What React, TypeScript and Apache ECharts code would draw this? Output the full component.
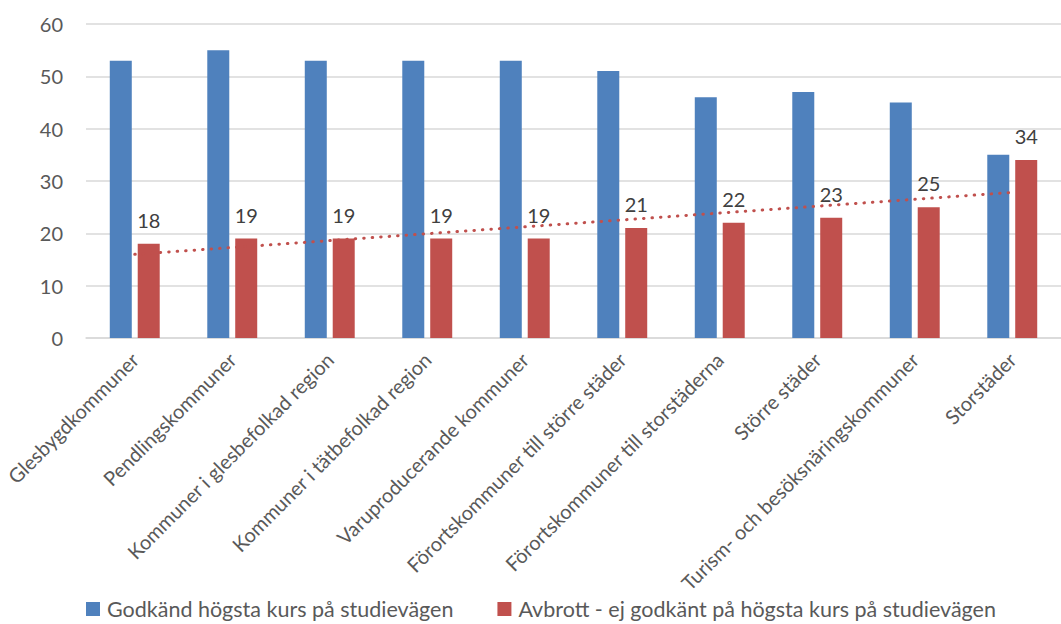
import React, { useEffect, useRef } from "react";
import * as echarts from "echarts";

const categories = [
  "Glesbygdkommuner",
  "Pendlingskommuner",
  "Kommuner i glesbefolkad region",
  "Kommuner i tätbefolkad region",
  "Varuproducerande kommuner",
  "Förortskommuner till större städer",
  "Förortskommuner till storstäderna",
  "Större städer",
  "Turism- och besöksnäringskommuner",
  "Storstäder",
];
const seriesNames = [
  "Godkänd högsta kurs på studievägen",
  "Avbrott - ej godkänt på högsta kurs på studievägen",
];
const godkand = [53, 55, 53, 53, 53, 51, 46, 47, 45, 35];
const avbrott = [18, 19, 19, 19, 19, 21, 22, 23, 25, 34];
const yTicks = [0, 10, 20, 30, 40, 50, 60];

// Linear trendline (least squares) of the "Avbrott" series, like Excel's trendline
function linearTrend(values: number[]): number[] {
  const n = values.length;
  const xs = values.map((_, i) => i + 1);
  const mx = xs.reduce((a, b) => a + b, 0) / n;
  const my = values.reduce((a, b) => a + b, 0) / n;
  let sxy = 0;
  let sxx = 0;
  for (let i = 0; i < n; i++) {
    sxy += (xs[i] - mx) * (values[i] - my);
    sxx += (xs[i] - mx) * (xs[i] - mx);
  }
  const slope = sxy / sxx;
  return xs.map((x) => my + slope * (x - mx));
}

const FONT = "Lato";
const BLUE = "#4F81BD";
const RED = "#C0504D";

export default function App() {
  const ref = useRef<HTMLDivElement>(null);
  useEffect(() => {
    if (!ref.current) return;
    const chart = echarts.init(ref.current, undefined, { renderer: "svg" });
    chart.setOption({
      animation: false,
      backgroundColor: "#ffffff",
      textStyle: { fontFamily: FONT },
      grid: { left: 86, right: -9, top: 24, bottom: 286, containLabel: false },
      legend: {
        data: seriesNames,
        left: 86,
        top: 597,
        padding: 0,
        itemWidth: 14,
        itemHeight: 14,
        itemGap: 44,
        icon: "rect",
        textStyle: {
          fontSize: 21.5,
          lineHeight: 24,
          color: "#595959",
          fontFamily: FONT,
          padding: [0, 0, 0, 2],
        },
      },
      xAxis: {
        type: "category",
        data: categories,
        axisLine: { show: true, lineStyle: { color: "#d9d9d9", width: 1.5 } },
        axisTick: { show: false },
        axisLabel: {
          interval: 0,
          rotate: 45,
          fontSize: 20,
          color: "#595959",
          fontFamily: FONT,
          margin: 18,
        },
      },
      yAxis: {
        type: "value",
        min: yTicks[0],
        max: yTicks[yTicks.length - 1],
        interval: yTicks[1] - yTicks[0],
        axisLine: { show: false },
        axisTick: { show: false },
        splitLine: { lineStyle: { color: "#d9d9d9", width: 1.5 } },
        axisLabel: { fontSize: 20, color: "#595959", fontFamily: FONT, margin: 23 },
      },
      series: [
        {
          name: seriesNames[0],
          type: "bar",
          data: godkand,
          barWidth: 22,
          barGap: "27%",
          itemStyle: { color: BLUE },
          z: 2,
        },
        {
          name: seriesNames[1],
          type: "bar",
          data: avbrott,
          barWidth: 22,
          itemStyle: { color: RED },
          label: {
            show: true,
            position: "top",
            distance: 14,
            fontSize: 20,
            color: "#404040",
            fontFamily: FONT,
          },
          z: 2,
        },
        {
          name: "Trend",
          type: "line",
          data: linearTrend(avbrott),
          symbol: "none",
          silent: true,
          lineStyle: { color: RED, width: 3, type: [0.5, 8], cap: "round" },
          z: 3,
        },
      ],
    });
    return () => chart.dispose();
  }, []);
  return (
    <div
      ref={ref}
      style={{ position: "fixed", left: 0, top: 0, width: 1061, height: 624 }}
    />
  );
}
